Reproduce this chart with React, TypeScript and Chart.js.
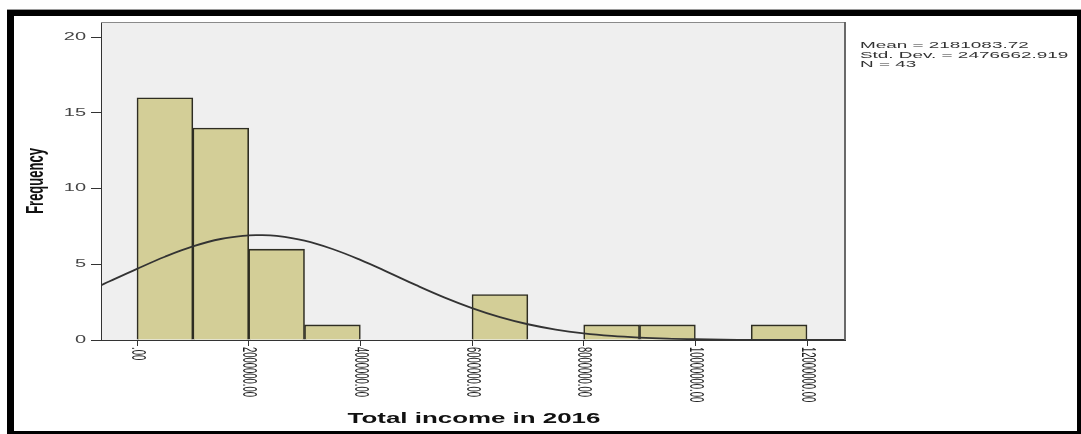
import React, { useEffect, useRef } from "react";
import { Chart, registerables } from "chart.js";

Chart.register(...registerables);

// ---- Data ----
const binCenters = [500000, 1500000, 2500000, 3500000, 6500000, 8500000, 9500000, 11500000];
const frequencies = [16, 14, 6, 1, 3, 1, 1, 1];

const curveX = [
  -645000, -500000, 0, 500000, 1000000, 1500000, 2000000, 2181084, 2500000, 3000000,
  3500000, 4000000, 4500000, 5000000, 5500000, 6000000, 6500000, 7000000, 7500000, 8000000,
  8500000, 9000000, 9500000, 10000000, 10500000, 11000000, 11500000, 12000000, 12680000,
];
const curveY = [
  3.61, 3.86, 4.7, 5.5, 6.18, 6.67, 6.91, 6.93, 6.87, 6.56,
  6.01, 5.29, 4.47, 3.62, 2.82, 2.11, 1.51, 1.04, 0.69, 0.44,
  0.27, 0.16, 0.09, 0.05, 0.02, 0.01, 0.01, 0.0, 0.0,
];

const xTickValues = [0, 2000000, 4000000, 6000000, 8000000, 10000000, 12000000];
const xTickLabels = [".00", "2000000.00", "4000000.00", "6000000.00", "8000000.00", "10000000.00", "12000000.00"];
const yTickValues = [0, 5, 10, 15, 20];
const yTickLabels = ["0", "5", "10", "15", "20"];

const xTitle = "Total income in 2016";
const yTitle = "Frequency";
const statLines = ["Mean = 2181083.72", "Std. Dev. = 2476662.919", "N = 43"];

function drawText(
  ctx: CanvasRenderingContext2D,
  text: string,
  x: number,
  y: number,
  font: string,
  align: CanvasTextAlign,
  baseline: CanvasTextBaseline,
  color: string,
  sx: number,
  sy = 1,
  rot = 0
) {
  ctx.save();
  ctx.translate(x, y);
  ctx.scale(sx, sy);
  if (rot) ctx.rotate(rot);
  ctx.font = font;
  ctx.textAlign = align;
  ctx.textBaseline = baseline;
  ctx.fillStyle = color;
  ctx.fillText(text, 0, 0);
  ctx.restore();
}

const decor = {
  id: "decor",
  beforeDraw(chart: any) {
    const { ctx, chartArea: a } = chart;
    ctx.save();
    ctx.fillStyle = "#ffffff";
    ctx.fillRect(0, 0, chart.width, chart.height);
    ctx.fillStyle = "#efefef";
    ctx.fillRect(a.left, a.top, a.right - a.left, a.bottom - a.top);
    ctx.restore();
  },
  afterDraw(chart: any) {
    const { ctx, chartArea: a } = chart;
    const xs = chart.scales.x;
    const ys = chart.scales.y;
    ctx.save();
    // plot frame (top & right)
    ctx.strokeStyle = "#8a8a8a";
    ctx.lineWidth = 1.2;
    ctx.beginPath();
    ctx.moveTo(a.left, a.top + 0.5);
    ctx.lineTo(a.right, a.top + 0.5);
    ctx.stroke();
    ctx.strokeStyle = "#5a5a5a";
    ctx.lineWidth = 1.8;
    ctx.beginPath();
    ctx.moveTo(a.right, a.top);
    ctx.lineTo(a.right, a.bottom);
    ctx.stroke();
    ctx.restore();

    // y tick labels
    yTickValues.forEach((v, i) => {
      const py = ys.getPixelForValue(v);
      drawText(ctx, yTickLabels[i], 86, py, "10px 'Liberation Sans', Arial, sans-serif", "right", "middle", "#444", 2.0);
    });
    // x tick labels (rotated, reading downward)
    xTickValues.forEach((v, i) => {
      const px = xs.getPixelForValue(v);
      drawText(ctx, xTickLabels[i], px, a.bottom + 7, "10.5px 'Liberation Sans', Arial, sans-serif", "left", "middle", "#222", 1.85, 0.9, Math.PI / 2);
    });
    // axis titles
    drawText(ctx, xTitle, (a.left + a.right) / 2 + 1, 423, "bold 14px 'Liberation Sans', Arial, sans-serif", "center", "alphabetic", "#111", 1.85);
    drawText(ctx, yTitle, 43, 181, "bold 13px 'Liberation Sans', Arial, sans-serif", "center", "alphabetic", "#111", 1.8, 1, -Math.PI / 2);
    // statistics
    statLines.forEach((t, i) => {
      drawText(ctx, t, 860, 48.3 + i * 9.2, "9px 'Liberation Sans', Arial, sans-serif", "left", "alphabetic", "#333", 2.1);
    });

    // outer black frame
    ctx.save();
    ctx.fillStyle = "#000";
    ctx.fillRect(7, 10, 1074, 6);
    ctx.fillRect(7, 10, 7, 424);
    ctx.fillRect(1077, 10, 4, 424);
    ctx.fillRect(7, 431, 1074, 3);
    ctx.fillStyle = "#9a9a9a";
    ctx.fillRect(7, 9, 1074, 1);
    ctx.restore();
  },
};

export default function App() {
  const ref = useRef<HTMLCanvasElement | null>(null);

  useEffect(() => {
    const canvas = ref.current;
    if (!canvas) return;
    const chart = new Chart(canvas, {
      type: "bar",
      data: {
        datasets: [
          {
            type: "line",
            label: "Normal",
            data: curveX.map((x, i) => ({ x, y: curveY[i] })),
            borderColor: "#333333",
            borderWidth: 1.8,
            pointRadius: 0,
            tension: 0.4,
            fill: false,
            order: 0,
          } as any,
          {
            type: "bar",
            label: "Frequency",
            data: binCenters.map((x, i) => ({ x, y: frequencies[i] })),
            backgroundColor: "#d3ce97",
            borderColor: "#2e2d22",
            borderWidth: 1.6,
            barPercentage: 1,
            categoryPercentage: 1,
            order: 1,
          } as any,
        ],
      },
      options: {
        responsive: false,
        animation: false,
        devicePixelRatio: 1,
        layout: { padding: { left: 0, top: 22, right: 236, bottom: 0 } },
        plugins: {
          legend: { display: false },
          tooltip: { enabled: false },
          title: { display: false },
        },
        scales: {
          x: {
            type: "linear",
            min: -645000,
            max: 12680000,
            offset: false,
            afterBuildTicks: (s: any) => {
              s.ticks = xTickValues.map((v) => ({ value: v }));
            },
            afterFit: (s: any) => {
              s.height = 94;
            },
            ticks: { display: false },
            grid: { display: true, drawOnChartArea: false, drawTicks: true, tickLength: 6, color: "#333", offset: false },
            border: { display: true, color: "#333", width: 1 },
          },
          y: {
            type: "linear",
            min: 0,
            max: 21,
            afterBuildTicks: (s: any) => {
              s.ticks = yTickValues.map((v) => ({ value: v }));
            },
            afterFit: (s: any) => {
              s.width = 101;
            },
            ticks: { display: false },
            grid: { display: true, drawOnChartArea: false, drawTicks: true, tickLength: 10, color: "#333" },
            border: { display: true, color: "#333", width: 1 },
          },
        },
      } as any,
      plugins: [decor],
    });
    return () => chart.destroy();
  }, []);

  return (
    <canvas
      ref={ref}
      width={1081}
      height={434}
      style={{ position: "absolute", left: 0, top: 0, width: 1081, height: 434, display: "block" }}
    />
  );
}
